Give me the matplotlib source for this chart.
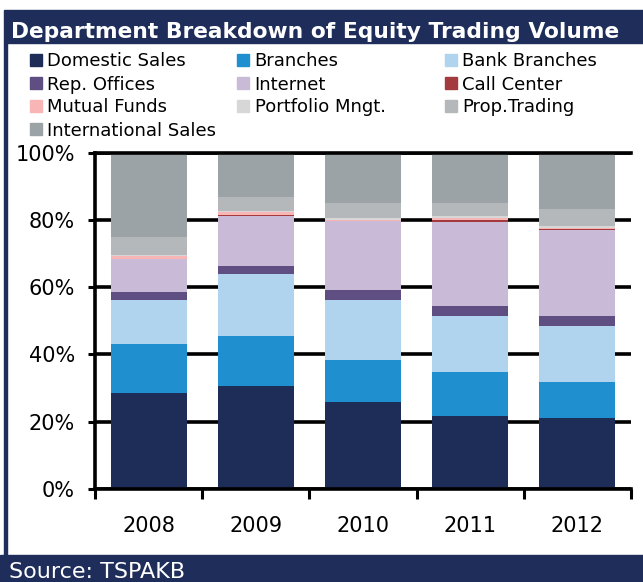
import matplotlib
matplotlib.use("Agg")
import matplotlib.pyplot as plt
from matplotlib.patches import Rectangle
import numpy as np

# data (share of equity trading volume, %)
years = ["2008", "2009", "2010", "2011", "2012"]
series = ["Domestic Sales", "Branches", "Bank Branches",
          "Rep. Offices", "Internet", "Call Center",
          "Mutual Funds", "Portfolio Mngt.", "Prop.Trading",
          "International Sales"]
domestic = [28.4, 30.7, 25.9, 21.7, 21.1]
branches = [14.7, 14.7, 12.4, 13.0, 10.6]
bank_branches = [13.1, 18.6, 17.9, 16.8, 16.8]
rep_offices = [2.3, 2.3, 2.9, 2.9, 2.9]
internet = [9.8, 15.0, 20.5, 25.0, 25.7]
call_center = [0.1, 0.1, 0.1, 0.6, 0.1]
mutual_funds = [0.9, 1.0, 0.4, 0.5, 0.5]
portfolio = [0.3, 0.3, 0.5, 0.6, 0.6]
prop_trading = [5.3, 4.0, 4.3, 3.8, 4.8]
international = [25.1, 13.3, 15.1, 15.1, 16.9]
values = [domestic, branches, bank_branches, rep_offices, internet,
          call_center, mutual_funds, portfolio, prop_trading, international]

colors = ["#1e2d57", "#1f8fd0", "#b0d3ee", "#5f4e82", "#c9bbd7",
          "#a33a3d", "#f8b5b5", "#d7d7d7", "#b4b8ba", "#9ba3a6"]
navy = "#1f2d5a"

W, H = 643, 582
fig = plt.figure(figsize=(W / 100, H / 100), dpi=100)

def fx(px):
    return px / W

def fy(py):
    return 1 - py / H

# frame: title bar, left border, source bar
fig.patches.append(Rectangle((fx(4), fy(43)), fx(W - 4), 33 / H,
                             transform=fig.transFigure, color=navy, zorder=0))
fig.patches.append(Rectangle((fx(3.5), fy(555)), fx(3), 512 / H,
                             transform=fig.transFigure, color=navy, zorder=0))
fig.patches.append(Rectangle((0, 0), 1, 27 / H,
                             transform=fig.transFigure, color=navy, zorder=0))
fig.text(fx(11), fy(37.5), "Department Breakdown of Equity Trading Volume",
         color="white", fontsize=15.7, fontweight="bold", va="baseline")
fig.text(fx(9), fy(578), "Source: TSPAKB", color="white", fontsize=16,
         va="baseline")

# legend laid out row by row like the original
for i, (name, c) in enumerate(zip(series, colors)):
    row, col = divmod(i, 3)
    x0 = 29.5 + col * 207.7
    yc = 60 + row * 23
    fig.patches.append(Rectangle((fx(x0), fy(yc + 6)), fx(12), 12 / H,
                                 transform=fig.transFigure, color=c))
    fig.text(fx(x0 + 17.5), fy(yc + 6.5), name, fontsize=13, va="baseline")

ax = fig.add_axes([fx(95), fy(488.7), fx(631 - 95), 336 / H])
x = np.arange(len(years))
bottom = np.zeros(len(years))
for vals, c in zip(values, colors):
    ax.bar(x, vals, 0.71, bottom=bottom, color=c, zorder=2)
    bottom += np.array(vals)

ax.set_xlim(-0.5, 4.5)
ax.set_ylim(0, 100)
ax.set_yticks([0, 20, 40, 60, 80, 100])
ax.set_yticklabels([f"{v}%" for v in [0, 20, 40, 60, 80, 100]], fontsize=15)
ax.set_xticks(x)
ax.set_xticklabels(years, fontsize=15)
ax.set_xticks(np.arange(-0.5, 5, 1), minor=True)
ax.tick_params(axis="x", which="major", length=0, pad=20)
ax.tick_params(axis="x", which="minor", length=7.5, width=2.2, direction="out")
ax.tick_params(axis="y", length=5, width=2.2, pad=9.4)
ax.yaxis.grid(True, color="black", linewidth=2.6, zorder=1)
ax.set_axisbelow(True)
for s in ["left", "bottom", "top"]:
    ax.spines[s].set_linewidth(2.6)
    ax.spines[s].set_zorder(3)
ax.spines["right"].set_visible(False)

fig.savefig("out.png", dpi=100)
